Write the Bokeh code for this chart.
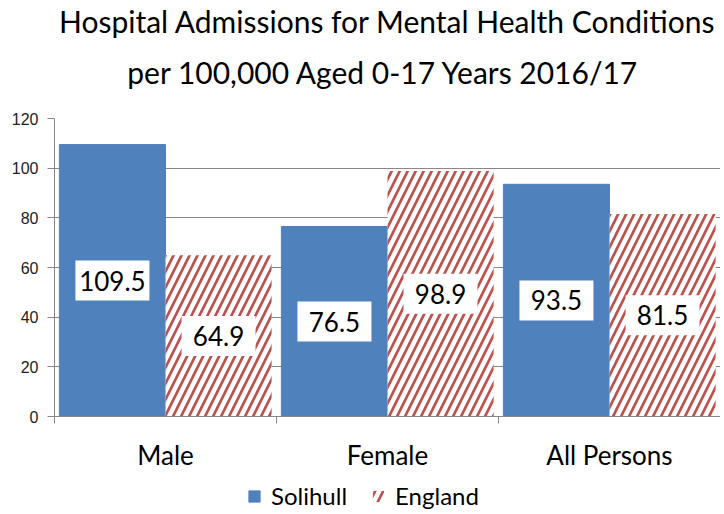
from bokeh.plotting import figure
from bokeh.layouts import column
from bokeh.models import ColumnDataSource, FixedTicker, Legend, LegendItem, Title
from bokeh.core.properties import value
from bokeh.embed import file_html
from bokeh.resources import INLINE

categories = ["Male", "Female", "All Persons"]
series_names = ["Solihull", "England"]
solihull = [109.5, 76.5, 93.5]
england = [64.9, 98.9, 81.5]
y_ticks = [0, 20, 40, 60, 80, 100, 120]

BLUE = "#4f81bd"
RED = "#c0504d"
GREY = "#868686"
FONT = "Lato"

centers = [i + 0.5 for i in range(len(categories))]
bw = 0.478
off = bw / 2

src_s = ColumnDataSource(dict(x=[c - off for c in centers], top=solihull,
                              mid=[v / 2 for v in solihull],
                              lab=[f"{v:.1f}" for v in solihull]))
src_e = ColumnDataSource(dict(x=[c + off for c in centers], top=england,
                              mid=[v / 2 for v in england],
                              lab=[f"{v:.1f}" for v in england]))

p = figure(frame_width=666, frame_height=298, x_range=(0, len(categories)), y_range=(0, 120),
           output_backend="svg", toolbar_location=None,
           min_border_left=54, min_border_right=0, min_border_top=118, min_border_bottom=64)
p.outline_line_color = None
p.background_fill_color = "white"

spacer = Title(text=" ", standoff=13, text_font_size="1px")
t2 = Title(text="per 100,000  Aged 0-17 Years 2016/17", align="center", standoff=25,
           text_font=FONT, text_font_size="30px", text_font_style="normal", text_color="black")
t1 = Title(text="Hospital Admissions for Mental Health Conditions", align="center", standoff=1,
           text_font=FONT, text_font_size="30px", text_font_style="normal", text_color="black")
p.add_layout(spacer, "above")
p.add_layout(t2, "above")
p.add_layout(t1, "above")

bar_s = dict(fill_color=BLUE, line_color=BLUE)
bar_e = dict(fill_color="white", line_color=None, hatch_pattern="/", hatch_color=RED,
             hatch_scale=16, hatch_weight=2.7)

p.vbar(x="x", top="top", width=bw, source=src_s, **bar_s)
p.vbar(x="x", top="top", width=bw, source=src_e, **bar_e)

for src in (src_s, src_e):
    p.rect(x="x", y="mid", width=74, height=40, width_units="screen", height_units="screen",
           source=src, fill_color="white", line_color=None)
    p.text(x="x", y="mid", text="lab", source=src, text_align="center", text_baseline="middle",
           text_font=value(FONT), text_font_size="26px", text_color="black")

# y axis
p.yaxis.ticker = FixedTicker(ticks=y_ticks)
p.yaxis.axis_line_color = GREY
p.yaxis.major_tick_line_color = GREY
p.yaxis.major_tick_in = 0
p.yaxis.major_tick_out = 7
p.yaxis.minor_tick_line_color = None
p.yaxis.major_label_text_font = "Liberation Sans"
p.yaxis.major_label_text_font_size = "16px"
p.yaxis.major_label_text_color = "#222222"
p.yaxis.major_label_standoff = 9
p.ygrid.ticker = FixedTicker(ticks=y_ticks)
p.ygrid.grid_line_color = GREY
p.ygrid.grid_line_width = 1

# x axis
p.xaxis.ticker = FixedTicker(ticks=centers, minor_ticks=list(range(len(categories) + 1)))
p.xaxis.major_label_overrides = {c: n for c, n in zip(centers, categories)}
p.xaxis.axis_line_color = GREY
p.xaxis.major_tick_line_color = None
p.xaxis.minor_tick_line_color = GREY
p.xaxis.minor_tick_in = 0
p.xaxis.minor_tick_out = 7
p.xaxis.major_label_text_font = FONT
p.xaxis.major_label_text_font_size = "26px"
p.xaxis.major_label_text_color = "black"
p.xaxis.major_label_standoff = 15
p.xgrid.grid_line_color = None

# legend strip (same series as hidden renderers, so only the legend swatches show)
pl = figure(width=720, height=34, x_range=(0, len(categories)), y_range=(-2, -1),
            output_backend="svg", toolbar_location=None, x_axis_type=None, y_axis_type=None,
            min_border=0)
pl.outline_line_color = None
pl.grid.visible = False
l_s = pl.vbar(x="x", top="top", width=bw, source=src_s, visible=False, **bar_s)
l_e = pl.vbar(x="x", top="top", width=bw, source=src_e, visible=False, **bar_e)
legend = Legend(items=[LegendItem(label=series_names[0], renderers=[l_s]),
                       LegendItem(label=series_names[1], renderers=[l_e])],
                orientation="horizontal", location=(193, 4), click_policy="none",
                label_text_font=FONT, label_text_font_size="24px", label_text_color="black",
                glyph_width=14, glyph_height=14, spacing=24, border_line_color=None,
                background_fill_alpha=0, padding=0, margin=0, label_standoff=10)
pl.add_layout(legend, "center")

layout = column(p, pl, spacing=0)
open("out.html", "w").write(file_html(layout, INLINE))
